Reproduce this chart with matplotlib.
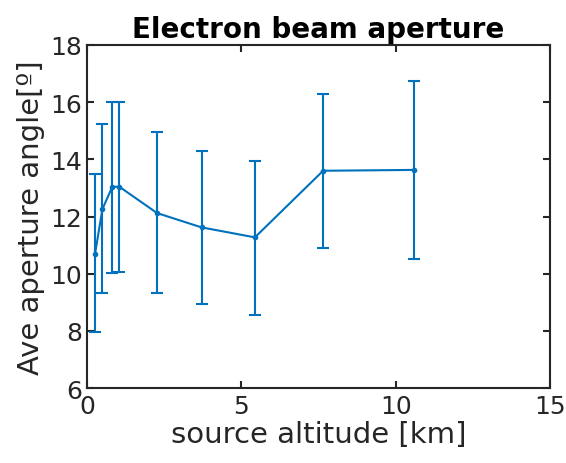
import matplotlib
matplotlib.use("Agg")
import matplotlib.pyplot as plt

altitude = [0.26, 0.50, 0.82, 1.05, 2.27, 3.71, 5.44, 7.65, 10.61]
angle = [10.69, 12.26, 13.04, 13.04, 12.12, 11.62, 11.27, 13.60, 13.63]
err_low = [2.73, 2.95, 3.01, 2.99, 2.78, 2.69, 2.70, 2.71, 3.13]
err_high = [2.80, 2.98, 2.98, 2.98, 2.83, 2.68, 2.68, 2.69, 3.11]

blue = "#0072BD"
dark = "#262626"

fig = plt.figure(figsize=(5.66, 4.64), dpi=100)
ax = fig.add_axes([0.1537, 0.1616, 0.818, 0.7393])

ax.errorbar(altitude, angle, yerr=[err_low, err_high], color=blue, lw=1.5,
            marker=".", markersize=6, capsize=4, capthick=1.5, elinewidth=1.5)

ax.set_xlim(0, 15)
ax.set_ylim(6, 18)
ax.set_xticks([0, 5, 10, 15])
ax.set_yticks([6, 8, 10, 12, 14, 16, 18])
ax.tick_params(direction="in", top=True, right=True, labelsize=18,
               width=1.5, length=5, colors=dark)
ax.tick_params(axis="x", pad=4)
for s in ax.spines.values():
    s.set_linewidth(1.5)
    s.set_color(dark)

ax.set_xlabel("source altitude [km]", fontsize=21, color=dark, labelpad=2)
ax.set_ylabel("Ave aperture angle[º]", fontsize=21, color=dark, labelpad=4)
ax.set_title("Electron beam aperture", fontsize=20, fontweight="bold", pad=6)

fig.savefig("out.png", dpi=100)
